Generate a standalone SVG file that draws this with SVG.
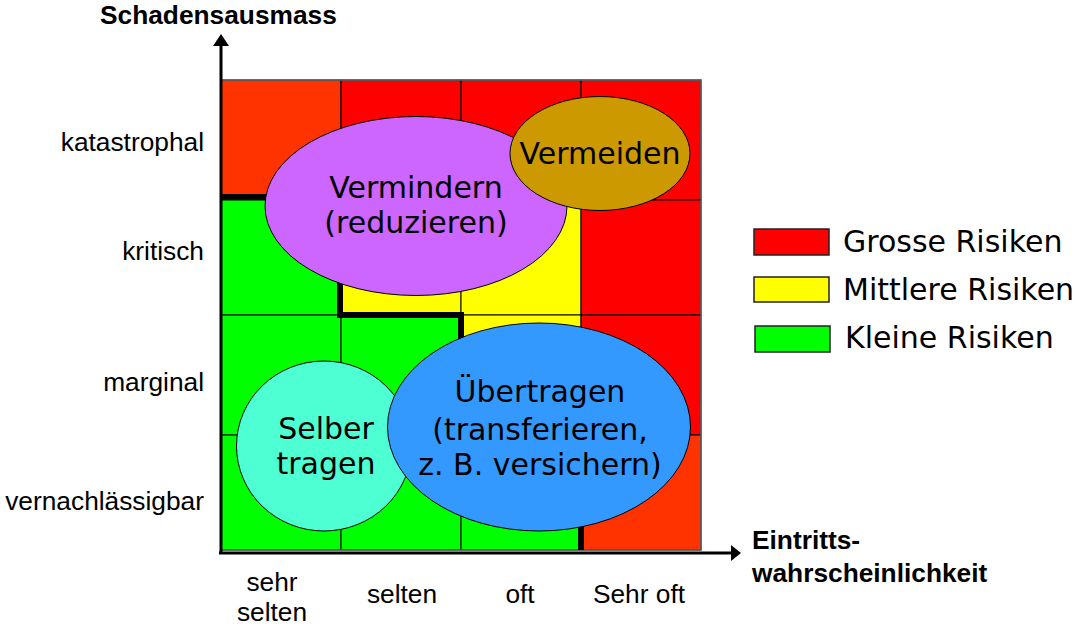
<svg xmlns="http://www.w3.org/2000/svg" width="1075" height="630" viewBox="0 0 1075 630">
<style>
.cell{stroke:#000;stroke-width:1}
.red{fill:#FF0000}
.ored{fill:#FF3300}
.yel{fill:#FFFF00}
.grn{fill:#00FF00}
.ax{font-family:"Liberation Sans",Arial,sans-serif;font-size:26.3px;fill:#000}
.axb{font-family:"Liberation Sans",Arial,sans-serif;font-size:26.3px;font-weight:bold;fill:#000}
.lbl{font-family:"DejaVu Sans",Verdana,sans-serif;font-size:30px;fill:#000}
.ell{stroke:#000;stroke-width:1}
</style>
<g id="grid">
<rect class="cell ored" x="221" y="80" width="120" height="120"/>
<rect class="cell red" x="341" y="80" width="120" height="120"/>
<rect class="cell red" x="461" y="80" width="120" height="120"/>
<rect class="cell red" x="581" y="80" width="120" height="120"/>
<rect class="cell grn" x="221" y="200" width="120" height="115"/>
<rect class="cell yel" x="341" y="200" width="120" height="115"/>
<rect class="cell yel" x="461" y="200" width="120" height="115"/>
<rect class="cell red" x="581" y="200" width="120" height="115"/>
<rect class="cell grn" x="221" y="315" width="120" height="120"/>
<rect class="cell grn" x="341" y="315" width="120" height="120"/>
<rect class="cell yel" x="461" y="315" width="120" height="120"/>
<rect class="cell red" x="581" y="315" width="120" height="120"/>
<rect class="cell grn" x="221" y="435" width="120" height="115"/>
<rect class="cell grn" x="341" y="435" width="120" height="115"/>
<rect class="cell grn" x="461" y="435" width="120" height="115"/>
<rect class="cell ored" x="581" y="435" width="120" height="115"/>
<rect x="221" y="80" width="480" height="470" fill="none" stroke="#666" stroke-width="1.5"/>
</g>
<g id="boundary">
<polyline points="221,197 340,197 340,315 461,315 461,435 581,435 581,550" fill="none" stroke="#000" stroke-width="6"/>
</g>
<g id="axes">
<line x1="221" y1="45" x2="221" y2="554" stroke="#000" stroke-width="3"/>
<polygon points="213,46 221,34 229,46" fill="#000"/>
<line x1="219" y1="553" x2="733" y2="553" stroke="#000" stroke-width="3"/>
<polygon points="731,545 741,553 731,561" fill="#000"/>
<text class="axb" x="100" y="24">Schadensausmass</text>
<text class="axb" x="752" y="549">Eintritts-</text>
<text class="axb" x="752" y="582">wahrscheinlichkeit</text>
<g text-anchor="end">
<text class="ax" x="204" y="151">katastrophal</text>
<text class="ax" x="204" y="260">kritisch</text>
<text class="ax" x="204" y="391">marginal</text>
<text class="ax" x="204" y="510">vernachlässigbar</text>
</g>
<g text-anchor="middle">
<text class="ax" x="272" y="591">sehr</text>
<text class="ax" x="272" y="621">selten</text>
<text class="ax" x="402" y="603">selten</text>
<text class="ax" x="520" y="603">oft</text>
<text class="ax" x="639" y="603">Sehr oft</text>
</g>
</g>
<g id="vermindern">
<ellipse class="ell" cx="416" cy="206" rx="151" ry="89.5" fill="#CC66FF"/>
<text class="lbl" x="416" y="198" text-anchor="middle">Vermindern</text>
<text class="lbl" x="416" y="233" text-anchor="middle">(reduzieren)</text>
</g>
<g id="vermeiden">
<ellipse class="ell" cx="600" cy="153.5" rx="90" ry="57" fill="#CC9900"/>
<text class="lbl" x="600" y="164" text-anchor="middle">Vermeiden</text>
</g>
<g id="selber">
<ellipse class="ell" cx="324" cy="446" rx="87.5" ry="85" fill="#4DFFD2"/>
<text class="lbl" x="326" y="439" text-anchor="middle">Selber</text>
<text class="lbl" x="326" y="474" text-anchor="middle">tragen</text>
</g>
<g id="uebertragen">
<ellipse class="ell" cx="539" cy="427" rx="151.5" ry="104" fill="#3399FF"/>
<text class="lbl" x="540" y="402" text-anchor="middle">Übertragen</text>
<text class="lbl" x="540" y="440" text-anchor="middle">(transferieren,</text>
<text class="lbl" x="540" y="475" text-anchor="middle">z. B. versichern)</text>
</g>
<g id="legend">
<rect x="754" y="229" width="75" height="26" fill="#FF0000" stroke="#222" stroke-width="1.5"/>
<text class="lbl" x="843" y="252">Grosse Risiken</text>
<rect x="754" y="277" width="75" height="25" fill="#FFFF00" stroke="#222" stroke-width="1.5"/>
<text class="lbl" x="843" y="300">Mittlere Risiken</text>
<rect x="755" y="326" width="75" height="26" fill="#00FF00" stroke="#222" stroke-width="1.5"/>
<text class="lbl" x="845" y="348">Kleine Risiken</text>
</g>
</svg>
